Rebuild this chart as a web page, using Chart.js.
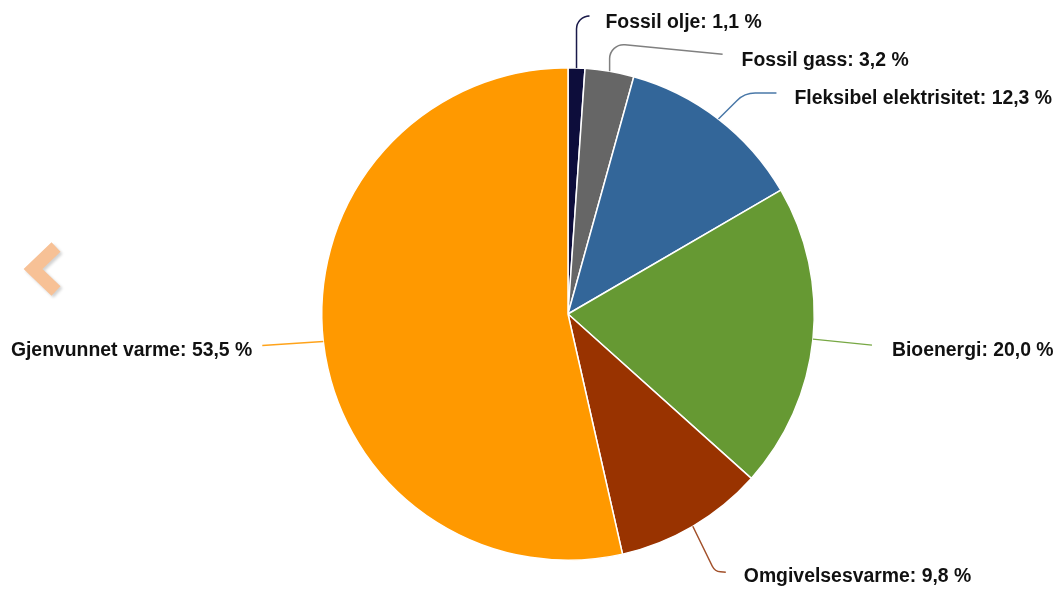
<!DOCTYPE html>
<html>
<head>
<meta charset="utf-8">
<script src="https://cdn.jsdelivr.net/npm/chart.js@4/dist/chart.umd.min.js"></script>
<style>
  html, body { margin: 0; padding: 0; background: #ffffff; }
  #wrap { position: relative; width: 1058px; height: 590px; }
</style>
</head>
<body>
<div id="wrap"><canvas id="c" width="1058" height="590"></canvas></div>
<script>
// ---- data ----
const categories = ["Fossil olje", "Fossil gass", "Fleksibel elektrisitet", "Bioenergi", "Omgivelsesvarme", "Gjenvunnet varme"];
const shares = [1.1, 3.2, 12.3, 20.0, 9.8, 53.5];

// ---- styles ----
const sliceColors = ["#0d0d3b", "#666666", "#336699", "#669933", "#993300", "#ff9900"];
const lineColors  = ["#1a1a4a", "#808080", "#4a78a8", "#77a844", "#a2502a", "#ffa31a"];

// label layout relative to slice mid-edge point (anchor)
const labelLayout = [
  { corner: [0, -52],  end: [11, -52], r: 13, text: [29, -40],  align: "left" },
  { corner: [0, -28],  end: [113, -17], r: 14, text: [132, -5], align: "left" },
  { corner: [26, -26], end: [58, -26], r: 26, text: [76, -15],  align: "left" },
  { corner: null,      end: [59, 6],   r: 0,  text: [79, 17],   align: "left" },
  { corner: [22, 45],  end: [33, 46],  r: 10, text: [51, 56],   align: "left" },
  { corner: null,      end: [-61, 4],  r: 0,  text: [-71, 15],  align: "right" }
];

const fmt = v => v.toFixed(1).replace(".", ",") + " %";

const labelPlugin = {
  id: "pieLabels",
  afterDatasetsDraw(chart) {
    const ctx = chart.ctx;
    const meta = chart.getDatasetMeta(0);
    ctx.save();
    meta.data.forEach((arc, i) => {
      const p = arc.getProps(["x", "y", "startAngle", "endAngle", "outerRadius"], true);
      const mid = (p.startAngle + p.endAngle) / 2;
      const ax = p.x + Math.cos(mid) * p.outerRadius;
      const ay = p.y + Math.sin(mid) * p.outerRadius;
      const L = labelLayout[i];
      ctx.strokeStyle = lineColors[i];
      ctx.lineWidth = 1.5;
      ctx.beginPath();
      ctx.moveTo(ax, ay);
      const ex = ax + L.end[0], ey = ay + L.end[1];
      if (L.corner) {
        ctx.arcTo(ax + L.corner[0], ay + L.corner[1], ex, ey, L.r);
      }
      ctx.lineTo(ex, ey);
      ctx.stroke();
      ctx.fillStyle = "#111111";
      ctx.font = "bold 19.4px 'Liberation Sans', Arial, sans-serif";
      ctx.textAlign = L.align;
      ctx.textBaseline = "alphabetic";
      ctx.fillText(categories[i] + ": " + fmt(shares[i]), ax + L.text[0], ay + L.text[1]);
    });
    // navigation chevron
    ctx.shadowColor = "rgba(0,0,0,0.18)";
    ctx.shadowOffsetX = 2;
    ctx.shadowOffsetY = 2;
    ctx.shadowBlur = 3;
    ctx.strokeStyle = "#f7c196";
    ctx.lineWidth = 13;
    ctx.lineCap = "butt";
    ctx.lineJoin = "miter";
    ctx.beginPath();
    ctx.moveTo(56, 247);
    ctx.lineTo(33, 269);
    ctx.lineTo(56, 291);
    ctx.stroke();
    ctx.restore();
  }
};

new Chart(document.getElementById("c"), {
  type: "pie",
  data: {
    labels: categories,
    datasets: [{
      data: shares,
      backgroundColor: sliceColors,
      borderColor: "#ffffff",
      borderWidth: 1.5
    }]
  },
  options: {
    responsive: false,
    animation: false,
    layout: { padding: { top: 67, bottom: 29, left: 100, right: 22 } },
    plugins: { legend: { display: false }, tooltip: { enabled: false } }
  },
  plugins: [labelPlugin]
});
</script>
</body>
</html>
